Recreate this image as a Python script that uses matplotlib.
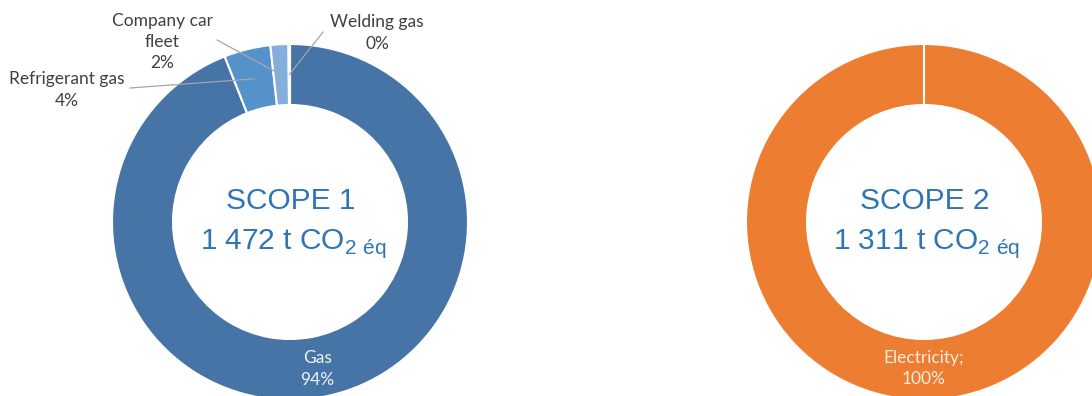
import matplotlib.pyplot as plt
import numpy as np

plt.rcParams['mathtext.fontset'] = 'custom'
plt.rcParams['mathtext.rm'] = 'Liberation Sans'

# scope 1 breakdown (t CO2 eq)
scope1_names = ['Gas', 'Refrigerant gas', 'Company car\nfleet', 'Welding gas']
scope1_values = [1384, 62, 24, 2]
scope1_colors = ['#4674A6', '#5592C9', '#84AEDB', '#A9C6E8']

# scope 2 breakdown
scope2_names = ['Electricity']
scope2_values = [1311]
scope2_colors = ['#ED7D31']

scope_titles = ['SCOPE 1', 'SCOPE 2']
scope_totals = ['1 472', '1 311']

W, H = 1092, 396
R, RING = 178, 61
LABEL_FONT = 'Lato'
LABEL_SIZE = 12.5
TXT_BLUE = '#2E75B6'


def pct(v, vals):
    return '%d%%' % round(100.0 * v / sum(vals))


def ring(ax, vals, colors, cx, cy):
    wedges, _ = ax.pie(vals, colors=colors, center=(cx, cy), radius=R,
                       startangle=90, counterclock=False,
                       wedgeprops=dict(width=RING, edgecolor='white', linewidth=1.5))
    return wedges


def mid_point(w, cx, cy, r):
    a = np.deg2rad((w.theta1 + w.theta2) / 2)
    return cx + r * np.cos(a), cy + r * np.sin(a)


def centre_text(ax, cx, cy, title, total):
    ax.text(cx + 1, cy + 13, title, ha='center', va='baseline', fontsize=21.5,
            color=TXT_BLUE, family='Liberation Sans')
    ax.text(cx + 3, cy - 27, total + r' t CO$_\mathregular{2\ éq}$', ha='center',
            va='baseline', fontsize=21.5, color=TXT_BLUE, family='Liberation Sans')


fig = plt.figure(figsize=(W / 100, H / 100), dpi=100)
ax = fig.add_axes([0, 0, 1, 1])

# ---- scope 1
c1 = (290, H - 222)
w1 = ring(ax, scope1_values, scope1_colors, *c1)
centre_text(ax, c1[0], c1[1], scope_titles[0], scope_totals[0])

gx, gy = mid_point(w1[0], c1[0], c1[1], R - RING / 2)
ax.text(gx, gy - 2, scope1_names[0] + '\n' + pct(scope1_values[0], scope1_values),
        ha='center', va='center', fontsize=LABEL_SIZE, color='#EEF2F7',
        family=LABEL_FONT, linespacing=1.4)

# outside labels with leader lines
text_pos = {1: (67, H - 90), 2: (162, H - 42), 3: (377, H - 33)}
line_start = {1: (130, H - 88), 2: (217, H - 40), 3: (323, H - 32)}
for i in (1, 2, 3):
    tx, ty = text_pos[i]
    ax.text(tx, ty, scope1_names[i] + '\n' + pct(scope1_values[i], scope1_values),
            ha='center', va='center', fontsize=LABEL_SIZE, color='#404040',
            family=LABEL_FONT, linespacing=1.4)
    ex, ey = mid_point(w1[i], c1[0], c1[1], R - RING / 2)
    sx, sy = line_start[i]
    ax.plot([sx, ex], [sy, ey], color='#A6A6A6', lw=0.9, zorder=5)

# ---- scope 2
c2 = (924, H - 222)
w2 = ring(ax, scope2_values, scope2_colors, *c2)
centre_text(ax, c2[0], c2[1], scope_titles[1], scope_totals[1])
ex, ey = mid_point(w2[0], c2[0], c2[1], R - RING / 2)
ax.text(ex, ey + 1, scope2_names[0] + ';\n' + pct(scope2_values[0], scope2_values),
        ha='center', va='center', fontsize=LABEL_SIZE, color='#FBEDE3',
        family=LABEL_FONT, linespacing=1.4)
# white seam at the top of the full ring
ax.plot([c2[0], c2[0]], [c2[1] + R - RING, c2[1] + R], color='white', lw=1.5)

ax.set_xlim(0, W)
ax.set_ylim(0, H)
ax.set_aspect('equal')
ax.axis('off')

fig.savefig('out.png', dpi=100, facecolor='white')
